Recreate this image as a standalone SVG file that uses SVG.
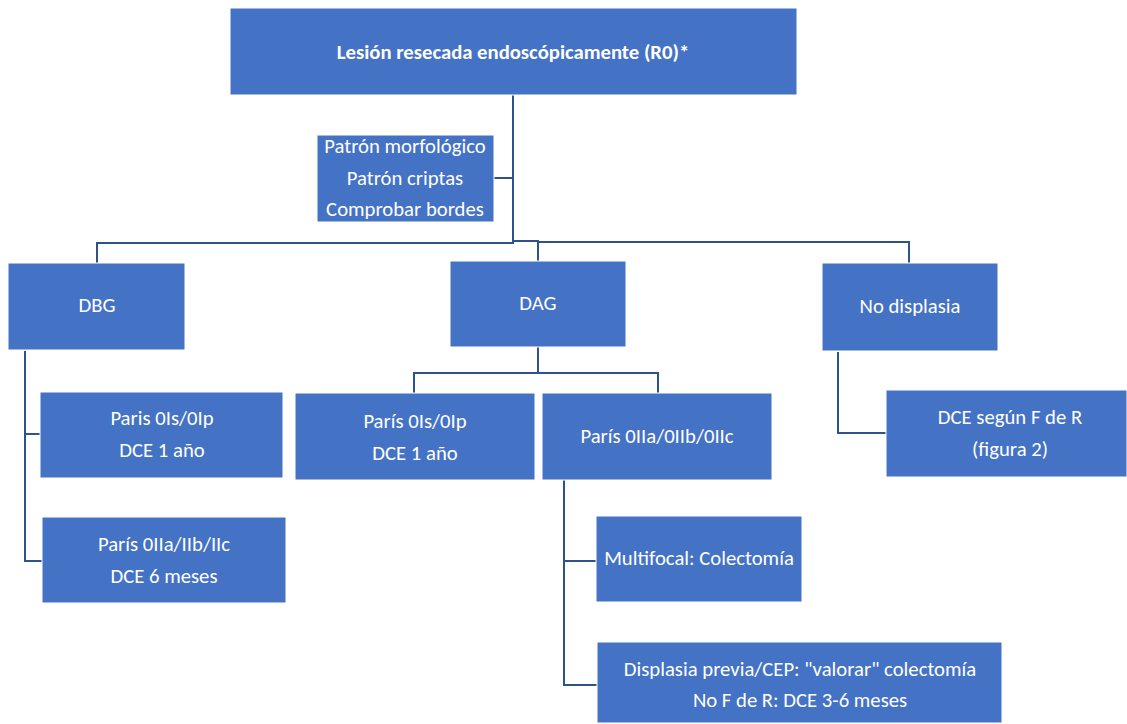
<svg xmlns="http://www.w3.org/2000/svg" width="1127" height="724" viewBox="0 0 1127 724">
<style>
.box{fill:#4472C4;stroke:#ffffff;stroke-width:1}
.t{font-family:Carlito,Lato,"Liberation Sans",sans-serif;font-size:20.7px;fill:#ffffff;text-anchor:middle}
.b{font-weight:bold}
.c{fill:none;stroke:#2F528F;stroke-width:2}
</style>
<rect width="1127" height="724" fill="#ffffff"/>
<g id="connectors">
<path class="c" d="M513 95 V243 H97 V263"/>
<path class="c" d="M513 240 V241 H538 V261"/>
<path class="c" d="M538 242 H909 V263"/>
<path class="c" d="M494 178 H513"/>
<path class="c" d="M25 351 V561 H42"/>
<path class="c" d="M25 434 H40"/>
<path class="c" d="M538 347 V373"/>
<path class="c" d="M414 393 V373 H658 V393"/>
<path class="c" d="M564 480 V685 H597"/>
<path class="c" d="M564 561 H596"/>
<path class="c" d="M838 352 V433 H886"/>
</g>
<g id="n-root"><rect class="box" x="230" y="8" width="567" height="87"/><text class="t b" x="513" y="59">Lesión resecada endoscópicamente (R0)*</text></g>
<g id="n-label"><rect class="box" x="317" y="135" width="177" height="87"/><text class="t" x="405" y="153">Patrón morfológico</text><text class="t" x="405" y="185">Patrón criptas</text><text class="t" x="405" y="216">Comprobar bordes</text></g>
<g id="n-dbg"><rect class="box" x="8" y="263" width="177" height="87"/><text class="t" x="97" y="312">DBG</text></g>
<g id="n-dag"><rect class="box" x="450" y="261" width="176" height="86"/><text class="t" x="538" y="310">DAG</text></g>
<g id="n-nodisp"><rect class="box" x="822" y="263" width="176" height="88"/><text class="t" x="910" y="313">No displasia</text></g>
<g id="n-dbg1"><rect class="box" x="40" y="392" width="243" height="86"/><text class="t" x="162" y="425">Paris 0Is/0Ip</text><text class="t" x="162" y="457">DCE  1 año</text></g>
<g id="n-dbg2"><rect class="box" x="42" y="517" width="244" height="86"/><text class="t" x="164" y="551">París 0IIa/IIb/IIc</text><text class="t" x="164" y="583">DCE 6 meses</text></g>
<g id="n-dag1"><rect class="box" x="295" y="393" width="240" height="87"/><text class="t" x="415" y="428">París 0Is/0Ip</text><text class="t" x="415" y="460">DCE 1 año</text></g>
<g id="n-dag2"><rect class="box" x="542" y="393" width="230" height="87"/><text class="t" x="657" y="443">París 0IIa/0IIb/0IIc</text></g>
<g id="n-multi"><rect class="box" x="596" y="516" width="206" height="86"/><text class="t" x="699" y="565">Multifocal: Colectomía</text></g>
<g id="n-prev"><rect class="box" x="597" y="642" width="405" height="81"/><text class="t" x="800" y="676">Displasia previa/CEP: "valorar" colectomía</text><text class="t" x="800" y="707">No F de R: DCE 3-6 meses</text></g>
<g id="n-fr"><rect class="box" x="886" y="390" width="241" height="87"/><text class="t" x="1010" y="424">DCE según F de R</text><text class="t" x="1010" y="456">(figura 2)</text></g>
</svg>
